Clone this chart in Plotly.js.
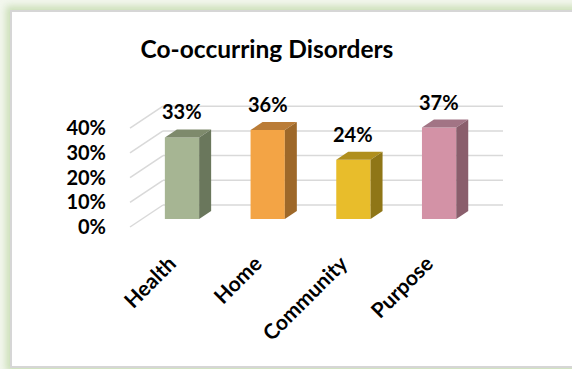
<!DOCTYPE html>
<html>
<head>
<meta charset="utf-8">
<script src="https://cdn.plot.ly/plotly-3.0.1.min.js"></script>
<style>
  html, body { margin:0; padding:0; background:#ffffff; overflow:hidden; }
  #wrap { position:relative; width:572px; height:369px; overflow:hidden; background:#f3f7ee; }
  #frame { position:absolute; left:10px; top:10px; width:600px; height:354px;
           background:#ffffff; border:2px solid #d6d6d6;
           box-shadow: 0 0 7px 4px rgba(190,215,165,0.75); }
  #chart { position:absolute; left:0; top:0; width:572px; height:369px; }
</style>
</head>
<body>
<div id="wrap">
  <div id="frame"></div>
  <div id="chart"></div>
</div>
<script>
// ---- data ----
const categories = ['Health', 'Home', 'Community', 'Purpose'];
const values = [33, 36, 24, 37];
const valueLabels = ['33%', '36%', '24%', '37%'];
const frontColors = ['#A6B593', '#F3A445', '#E8BD2B', '#D392A6'];
const topColors = ['#7E8A6C', '#BA7C37', '#B08F1E', '#A27485'];
const sideColors = ['#6A775C', '#9E6829', '#8F7617', '#8A5E6C'];
const yTickVals = [0, 10, 20, 30, 40];
const yTickText = ['0%', '10%', '20%', '30%', '40%'];

// ---- pseudo-3D geometry (in axis units) ----
const PX_U = 85.7, PX_V = 2.47;          // pixels per category unit / per percent
const ORIGIN_X = 170, ORIGIN_Y = 227;    // pixel of (0, 0) on front plane
const plotL = 119, plotR = 520, plotT = 60, plotB = 232;
const W = 572, H = 369;
const depthPx = [33, 22];                // full floor depth in pixels (dx, -dy)
const barFrontT = 8 / 22, barBackT = 16 / 22;
const fullDX = depthPx[0] / PX_U, fullDY = depthPx[1] / PX_V;
const bfx = fullDX * barFrontT, bfy = fullDY * barFrontT;
const bdx = fullDX * (barBackT - barFrontT), bdy = fullDY * (barBackT - barFrontT);
const barW = 0.4;
const wallLeft = (130 - ORIGIN_X) / PX_U;
const wallRight = (503 - ORIGIN_X) / PX_U;

const xRange = [(plotL - ORIGIN_X) / PX_U, (plotR - ORIGIN_X) / PX_U];
const yRange = [(ORIGIN_Y - plotB) / PX_V, (ORIGIN_Y - plotT) / PX_V];

const traces = [];
const xs = categories.map((c, i) => i + bfx);

// front faces
traces.push({
  type: 'bar', x: xs, y: values, base: bfy, width: barW,
  marker: { color: frontColors, line: { width: 0 } },
  hoverinfo: 'skip', showlegend: false
});

// top and side faces
values.forEach((v, i) => {
  const x0 = xs[i] - barW / 2, x1 = xs[i] + barW / 2;
  const yt = bfy + v;
  traces.push({
    type: 'scatter', mode: 'lines', fill: 'toself',
    x: [x0, x1, x1 + bdx, x0 + bdx, x0],
    y: [yt, yt, yt + bdy, yt + bdy, yt],
    fillcolor: topColors[i], line: { width: 0, color: topColors[i] },
    hoverinfo: 'skip', showlegend: false
  });
  traces.push({
    type: 'scatter', mode: 'lines', fill: 'toself',
    x: [x1, x1 + bdx, x1 + bdx, x1, x1],
    y: [bfy, bfy + bdy, yt + bdy, yt, bfy],
    fillcolor: sideColors[i], line: { width: 0, color: sideColors[i] },
    hoverinfo: 'skip', showlegend: false
  });
});

// gridlines (walls) as shapes below traces
const shapes = [];
yTickVals.forEach(g => {
  shapes.push({ type: 'line', layer: 'below', xref: 'x', yref: 'y',
    x0: wallLeft, y0: g, x1: wallLeft + fullDX, y1: g + fullDY,
    line: { color: '#D9D9D9', width: 1.5 } });
  shapes.push({ type: 'line', layer: 'below', xref: 'x', yref: 'y',
    x0: wallLeft + fullDX, y0: g + fullDY, x1: wallRight, y1: g + fullDY,
    line: { color: '#D9D9D9', width: 1.5 } });
});

const FONT = 'Lato, "Open Sans", sans-serif';
const annotations = values.map((v, i) => ({
  x: xs[i], y: bfy + v + bdy, xref: 'x', yref: 'y',
  text: '<b>' + valueLabels[i] + '</b>', showarrow: false,
  yanchor: 'bottom', yshift: 4,
  font: { family: FONT, size: 20, color: '#000000' }
}));

const layout = {
  width: W, height: H,
  margin: { l: plotL, r: W - plotR, t: plotT, b: H - plotB, pad: 0 },
  paper_bgcolor: 'rgba(0,0,0,0)', plot_bgcolor: 'rgba(0,0,0,0)',
  showlegend: false,
  title: { text: '<b>Co-occurring Disorders</b>', xref: 'container', yref: 'container',
           x: 267 / W, xanchor: 'center', y: 1 - 49 / H, yanchor: 'middle',
           font: { family: FONT, size: 24.5, color: '#000000' } },
  xaxis: { range: xRange, showgrid: false, zeroline: false, showline: false,
           tickmode: 'array', tickvals: categories.map((c, i) => i),
           ticktext: categories.map(c => '<b>' + c + '</b>'),
           tickangle: -45, ticks: 'outside', ticklen: 10, tickcolor: 'rgba(0,0,0,0)',
           tickfont: { family: FONT, size: 21, color: '#000000' }, fixedrange: true },
  yaxis: { range: yRange, showgrid: false, zeroline: false, showline: false,
           tickmode: 'array', tickvals: yTickVals,
           ticktext: yTickText.map(t => '<b>' + t + '</b>'),
           ticks: 'outside', ticklen: 8, tickcolor: 'rgba(0,0,0,0)',
           tickfont: { family: FONT, size: 20, color: '#000000' }, fixedrange: true },
  shapes: shapes,
  annotations: annotations
};

Plotly.newPlot('chart', traces, layout, { staticPlot: true, displayModeBar: false });
</script>
</body>
</html>
